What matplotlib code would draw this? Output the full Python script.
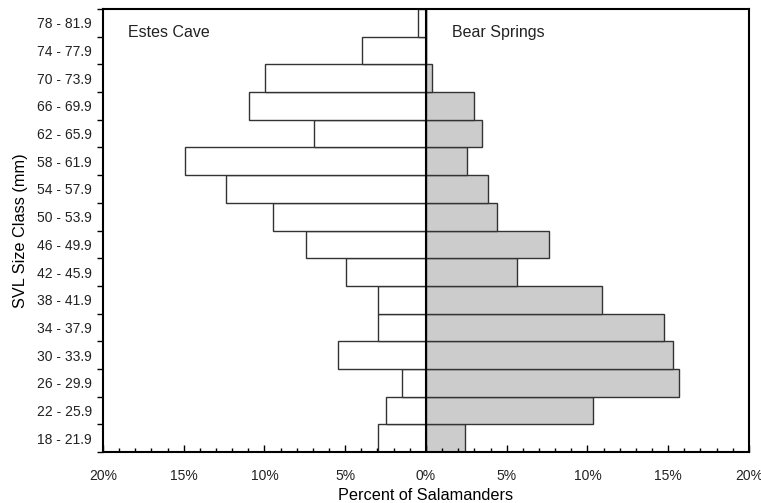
import numpy as np
import matplotlib.pyplot as plt
from matplotlib.ticker import MultipleLocator, FuncFormatter

plt.rcParams['font.family'] = ['Liberation Sans', 'DejaVu Sans']
plt.rcParams['text.color'] = '#222222'
plt.rcParams['xtick.labelcolor'] = '#222222'
plt.rcParams['ytick.labelcolor'] = '#222222'

# classes de taille (du bas vers le haut)
classes = ['18 - 21.9', '22 - 25.9', '26 - 29.9', '30 - 33.9', '34 - 37.9',
           '38 - 41.9', '42 - 45.9', '46 - 49.9', '50 - 53.9', '54 - 57.9',
           '58 - 61.9', '62 - 65.9', '66 - 69.9', '70 - 73.9', '74 - 77.9',
           '78 - 81.9']

# pourcentages
estes_cave = [2.95, 2.5, 1.5, 5.45, 2.95, 2.95, 4.95, 7.45, 9.45, 12.4,
              14.9, 6.95, 10.95, 9.95, 3.95, 0.5]
bear_springs = [2.4, 10.35, 15.65, 15.3, 14.75, 10.9, 5.65, 7.65, 4.4, 3.85,
                2.55, 3.45, 2.95, 0.4, 0.0, 0.0]

fig = plt.figure(figsize=(7.61, 5.03), dpi=100)
ax = fig.add_axes([0.1354, 0.1014, 0.8486, 0.8806])

y = np.arange(len(classes))
ax.barh(y, -np.array(estes_cave), height=1.0, color='white',
        edgecolor='#333333', linewidth=1.0)
ax.barh(y, bear_springs, height=1.0, color='#cccccc',
        edgecolor='#333333', linewidth=1.0)
ax.axvline(0, color='black', linewidth=1.5)

ax.set_xlim(-20, 20)
ax.set_ylim(-0.5, len(classes) - 0.5)

ax.xaxis.set_major_locator(MultipleLocator(5))
ax.xaxis.set_minor_locator(MultipleLocator(1))
ax.xaxis.set_major_formatter(FuncFormatter(lambda v, p: '%d%%' % abs(round(v))))
ax.tick_params(axis='x', which='major', direction='in', length=5, width=1,
               labelsize=10, pad=12)
ax.tick_params(axis='x', which='minor', direction='in', length=3, width=1)

ax.set_yticks(y)
ax.set_yticklabels(classes)
ax.set_yticks(np.arange(-0.5, len(classes)), minor=True)
ax.tick_params(axis='y', which='major', length=0, labelsize=10, pad=8)
ax.tick_params(axis='y', which='minor', direction='out', length=4, width=1)

for s in ax.spines.values():
    s.set_linewidth(1.5)

ax.text(0.038, 0.965, 'Estes Cave', transform=ax.transAxes, fontsize=11.5,
        va='top', ha='left')
ax.text(0.54, 0.965, 'Bear Springs', transform=ax.transAxes, fontsize=11.5,
        va='top', ha='left')

ax.set_xlabel('Percent of Salamanders', fontsize=11.7, labelpad=4)
ax.set_ylabel('SVL Size Class (mm)', fontsize=11.7, labelpad=6)

fig.savefig('out.png', dpi=100)
